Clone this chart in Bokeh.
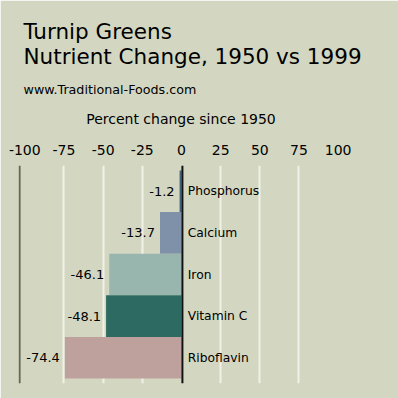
from bokeh.plotting import figure
from bokeh.models import Range1d, FactorRange, Span, Title, FixedTicker, ColumnDataSource
from bokeh.core.properties import value
from bokeh.embed import file_html
from bokeh.resources import INLINE

nutrients = ["Phosphorus", "Calcium", "Iron", "Vitamin C", "Riboflavin"]
changes = [-1.2, -13.7, -46.1, -48.1, -74.4]
bar_colors = ["#41607a", "#7f91a9", "#98b5ae", "#2d6b62", "#bea19c"]
tick_values = [-100, -75, -50, -25, 0, 25, 50, 75, 100]
grid_values = [-75, -50, -25, 25, 50, 75]
title_line1 = "Turnip Greens"
title_line2 = "Nutrient Change, 1950 vs 1999"
subtitle = "www.Traditional-Foods.com"
axis_title = "Percent change since 1950"

BG = "#d3d7c1"
FONT = "DejaVu Sans"

src = ColumnDataSource(dict(
    cat=nutrients,
    val=changes,
    color=bar_colors,
    lbl=[f"{v:.1f}" for v in changes],
    zero=[0] * len(changes),
))

y_factors = list(reversed(nutrients))
p = figure(width=398, height=398, output_backend="svg", toolbar_location=None,
           x_range=Range1d(-104, 103.4),
           y_range=FactorRange(*y_factors, range_padding=0.12, range_padding_units="absolute"),
           x_axis_location="above", y_axis_location=None,
           min_border_left=18, min_border_right=55, min_border_top=165, min_border_bottom=15)

p.background_fill_color = BG
p.border_fill_color = BG
p.outline_line_color = BG
p.outline_line_width = 1.5

p.hbar(y="cat", left="zero", right="val", height=1.0, color="color", line_color=None, source=src)

p.xaxis.ticker = FixedTicker(ticks=tick_values)
p.xaxis.major_label_overrides = {t: str(t) for t in tick_values}
p.xaxis.axis_line_color = None
p.xaxis.major_tick_line_color = None
p.xaxis.minor_tick_line_color = None
p.xaxis.major_label_text_font = FONT
p.xaxis.major_label_text_font_size = "14px"
p.xaxis.major_label_text_color = "black"
p.xaxis.major_label_standoff = 5
p.xaxis.axis_label = axis_title
p.xaxis.axis_label_text_font = FONT
p.xaxis.axis_label_text_font_size = "14px"
p.xaxis.axis_label_text_font_style = "normal"
p.xaxis.axis_label_text_color = "black"
p.xaxis.axis_label_standoff = 15

p.xgrid.ticker = FixedTicker(ticks=grid_values)
p.xgrid.grid_line_color = "#f0f0e6"
p.xgrid.grid_line_width = 2
p.ygrid.grid_line_color = None

p.add_layout(Span(location=-103.3, dimension="height", line_color="#66665a", line_width=2))
p.add_layout(Span(location=0.6, dimension="height", line_color="#111111", line_width=2))

p.text(x=4, y="cat", text="cat", source=src, text_font=value(FONT),
       text_font_size="12.3px", text_baseline="middle", text_align="left", text_color="black")
p.text(x="val", y="cat", text="lbl", source=src, text_font=value(FONT), x_offset=-5,
       text_font_size="13px", text_baseline="middle", text_align="right", text_color="black")

p.add_layout(Title(text=subtitle, text_font=FONT, text_font_size="12.7px", text_font_style="normal",
                   text_color="black", align="left", offset=5, standoff=22), "above")
p.add_layout(Title(text=title_line1 + "\n" + title_line2, text_font=FONT, text_font_size="21.5px",
                   text_font_style="normal", text_line_height=0.97,
                   text_color="black", align="left", offset=5, standoff=0), "above")

html = file_html(p, INLINE)
html = html.replace("<body>", '<body style="background:%s">' % BG, 1)
open("out.html", "w").write(html)
